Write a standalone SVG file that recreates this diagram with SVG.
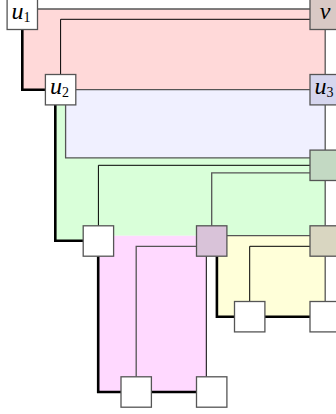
<svg xmlns="http://www.w3.org/2000/svg" width="336" height="414" viewBox="0 0 336 414">
<style>
.face{stroke:none}
.g{fill:none;stroke:#555;stroke-width:1.3}
.k{fill:none;stroke:#000;stroke-width:1}
.kk{fill:none;stroke:#000;stroke-width:2.6}
.box{stroke:#555;stroke-width:1.3}
</style>
<rect width="336" height="414" fill="#fff"/>
<g id="faces">
<polygon class="face" fill="#ffd9d9" points="22.3,9 325.2,9 325.2,89.7 22.3,89.7"/>
<polygon class="face" fill="#d9ffd9" points="55.3,89.7 325.2,89.7 325.2,235.7 98.4,235.7 98.4,240.7 55.3,240.7"/>
<polygon class="face" fill="#f0f0ff" points="65.6,89.7 325.2,89.7 325.2,157.8 65.6,157.8"/>
<polygon class="face" fill="#ffd9ff" points="98.2,235.7 206.3,235.7 206.3,392 98.2,392"/>
<polygon class="face" fill="#ffffd9" points="216.9,235.7 325.2,235.7 325.2,316.7 216.9,316.7"/>
</g>
<g id="connectors">
<path class="g" d="M37.5,9 H310"/>
<path class="g" d="M75.8,89.7 H310"/>
<path class="g" d="M325.2,29.5 V74.5"/>
<path class="g" d="M65.6,105 V157.8 H310"/>
<path class="g" d="M325.2,105 V150"/>
<path class="g" d="M211.7,225.8 V172.8 H310"/>
<path class="g" d="M325.2,180.5 V225.8"/>
<path class="g" d="M226.9,235.7 H310"/>
<path class="g" d="M325.2,256.2 V301.5"/>
<path class="g" d="M136.2,376.8 V246.3 H196.5"/>
<path class="k" d="M60.6,74.5 V19.3 H310"/>
<path class="k" d="M98.4,225.8 V165.3 H310"/>
<path class="k" d="M206.3,376.8 V256.2"/>
<path class="k" d="M249.7,301.5 V246.3 H310"/>
<path class="kk" d="M22.3,29.5 V89.7 H45.4"/>
<path class="kk" d="M55.3,105 V240.7 H83.2"/>
<path class="kk" d="M98.2,256.2 V392 H121"/>
<path class="kk" d="M216.9,256.2 V316.7 H234.5"/>
<path class="kk" d="M264.9,316.7 H310"/>
<path class="kk" d="M151.4,392 H196.5"/>
</g>
<g id="u1"><rect class="box" fill="#fff" x="7.1" y="-0.9" width="30.4" height="30.4"/><text font-family="'Liberation Serif', serif" font-style="italic" font-size="24" x="21" y="19" text-anchor="middle">u<tspan font-style="normal" font-size="14" dy="2.5">1</tspan></text></g>
<g id="v"><rect class="box" fill="#d9c9c5" x="310" y="-0.9" width="30.4" height="30.4"/><text font-family="'Liberation Serif', serif" font-style="italic" font-size="24" x="325.2" y="19" text-anchor="middle">v</text></g>
<g id="u2"><rect class="box" fill="#fff" x="45.4" y="74.5" width="30.4" height="30.4"/><text font-family="'Liberation Serif', serif" font-style="italic" font-size="24" x="59.5" y="94.2" text-anchor="middle">u<tspan font-style="normal" font-size="14" dy="2.5">2</tspan></text></g>
<g id="u3"><rect class="box" fill="#d6d6ee" x="310" y="74.5" width="30.4" height="30.4"/><text font-family="'Liberation Serif', serif" font-style="italic" font-size="24" x="324" y="94.2" text-anchor="middle">u<tspan font-style="normal" font-size="14" dy="2.5">3</tspan></text></g>
<g id="n_green"><rect class="box" fill="#c3d9c3" x="310" y="150.1" width="30.4" height="30.4"/></g>
<g id="n_white1"><rect class="box" fill="#fff" x="83.2" y="225.8" width="30.4" height="30.4"/></g>
<g id="n_purple"><rect class="box" fill="#d9c3d9" x="196.5" y="225.8" width="30.4" height="30.4"/></g>
<g id="n_tan"><rect class="box" fill="#d9d6c1" x="310" y="225.8" width="30.4" height="30.4"/></g>
<g id="n_y1"><rect class="box" fill="#fff" x="234.5" y="301.5" width="30.4" height="30.4"/></g>
<g id="n_y2"><rect class="box" fill="#fff" x="310" y="301.5" width="30.4" height="30.4"/></g>
<g id="n_b1"><rect class="box" fill="#fff" x="121" y="376.8" width="30.4" height="30.4"/></g>
<g id="n_b2"><rect class="box" fill="#fff" x="196.5" y="376.8" width="30.4" height="30.4"/></g>
</svg>
